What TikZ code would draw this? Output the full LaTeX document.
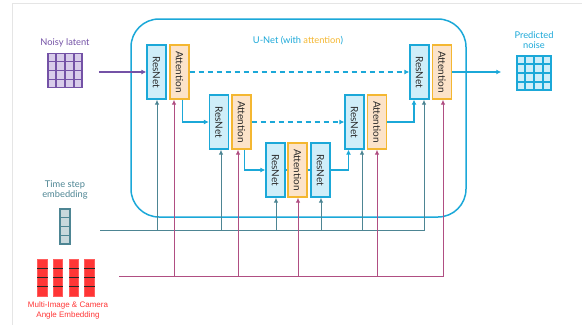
\documentclass[tikz,border=0pt]{standalone}
\usepackage{fontspec}
\setmainfont{Lato}
\newfontfamily\embfont{Liberation Sans}
\usepackage{graphicx}
\usepackage{tikz}
\usetikzlibrary{positioning, arrows.meta, calc}

\definecolor{unetcyan}{HTML}{1BA8D8}
\definecolor{resfill}{HTML}{CFEEF9}
\definecolor{attfill}{HTML}{FCE3C9}
\definecolor{attdraw}{HTML}{F4B731}
\definecolor{tealc}{HTML}{4D8593}
\definecolor{magc}{HTML}{B04E82}
\definecolor{purplec}{HTML}{7452A6}
\definecolor{lightpurple}{HTML}{D8CCEA}
\definecolor{tsfill}{HTML}{C8D8DC}
\definecolor{redbar}{HTML}{FF3535}
\definecolor{blocktext}{HTML}{2A2A2A}

\begin{document}
\begin{tikzpicture}[
    x=1pt, y=-1pt,
    res/.style={draw=unetcyan, fill=resfill, line width=1.3pt, minimum width=19pt, minimum height=54pt,
        inner sep=0pt, text=blocktext, font=\fontsize{10}{12}\selectfont},
    att/.style={res, draw=attdraw, fill=attfill},
    flow/.style={unetcyan, line width=1.2pt, -{Latex[length=5pt,width=5pt]}},
    skip/.style={flow, dash pattern=on 5pt off 4pt},
    tline/.style={tealc, line width=1pt},
    mline/.style={magc, line width=1pt},
    tarrow/.style={tline, -{Latex[length=5pt,width=4.5pt]}},
    marrow/.style={mline, -{Latex[length=5pt,width=4.5pt]}},
    gridbox/.style={minimum size=34pt, inner sep=0pt, line width=1.5pt},
    lbl/.style={font=\fontsize{9.3}{11}\selectfont, align=center},
]
\useasboundingbox (0,0) rectangle (582,325);
% faint frame
\draw[black!10, line width=0.6pt] (12,325) -- (12,3) -- (582,3);

% U-Net box
\node[draw=unetcyan, line width=1.5pt, rounded corners=28pt, minimum width=335pt, minimum height=198pt] (unet) at (298.5,118) {};
\node[lbl, text=unetcyan] (unetlbl) at (298,41) {U-Net (with \textcolor{attdraw}{attention})};

% Down path
\node[res] (res1) at (156.5,72) {\rotatebox{-90}{ResNet}};
\node[att] (att1) at (179.5,72) {\rotatebox{-90}{Attention}};
\node[res] (res2) at (219,122) {\rotatebox{-90}{ResNet}};
\node[att] (att2) at (241.5,122) {\rotatebox{-90}{Attention}};
% Bottom
\node[res] (res3) at (275.5,170) {\rotatebox{-90}{ResNet}};
\node[att] (att3) at (297.5,170) {\rotatebox{-90}{Attention}};
\node[res] (res4) at (320.5,170) {\rotatebox{-90}{ResNet}};
% Up path
\node[res] (res5) at (354.5,122) {\rotatebox{-90}{ResNet}};
\node[att] (att4) at (377,122) {\rotatebox{-90}{Attention}};
\node[res] (res6) at (419.5,72) {\rotatebox{-90}{ResNet}};
\node[att] (att5) at (442,72) {\rotatebox{-90}{Attention}};

% Input and output grids
\node[gridbox, draw=purplec, fill=lightpurple] (latent) at (65,70.5) {};
\node[lbl, text=purplec] (latentlbl) at (65,43) {Noisy latent};
\node[gridbox, draw=unetcyan, fill=resfill] (noise) at (534,73) {};
\node[lbl, text=unetcyan] (noiselbl) at (534,40.5) {Predicted\\[-1pt]noise};
\foreach \g/\c in {latent/purplec, noise/unetcyan}
  \foreach \i in {1,2,3} {
    \draw[\c, line width=1.5pt] ($(\g.north west)!\i/4!(\g.north east)$) -- ($(\g.south west)!\i/4!(\g.south east)$);
    \draw[\c, line width=1.5pt] ($(\g.north west)!\i/4!(\g.south west)$) -- ($(\g.north east)!\i/4!(\g.south east)$);
  }

% Time step embedding
\node[draw=tealc, fill=tsfill, line width=1.2pt, minimum width=10pt, minimum height=35pt, inner sep=0pt] (ts) at (65,226.5) {};
\foreach \i in {1,2,3}
  \draw[tealc, line width=1.2pt] ($(ts.north west)!\i/4!(ts.south west)$) -- ($(ts.north east)!\i/4!(ts.south east)$);
\node[lbl, text=tealc] (tslbl) at (65,190) {Time step\\[-1pt]embedding};

% Multi-image & camera angle embedding
\foreach \x [count=\k] in {42.5,58,74,89.5} {
  \node[draw=redbar!80!white, fill=redbar, line width=0.6pt, minimum width=9.5pt, minimum height=37pt, inner sep=0pt] (emb\k) at (\x,277.5) {};
  \foreach \i in {1,2,3}
    \draw[black!85, line width=0.9pt] ($(emb\k.north west)!\i/4!(emb\k.south west)$) -- ($(emb\k.north east)!\i/4!(emb\k.south east)$);
}
\node[font=\embfont\fontsize{8}{10}\selectfont, text=redbar, align=center] (emblbl) at (68,310) {Multi-Image \& Camera\\Angle Embedding};

% Main flow
\draw[purplec, line width=1.2pt, -{Latex[length=5pt,width=5pt]}, shorten <=16pt] (latent.east |- res1.west) -- (res1.west);
\draw[skip] (att1.east) -- (res6.west);
\draw[skip] (att2.east) -- (res5.west);
\draw[flow] ([xshift=3pt]att1.south) |- (res2.west);
\draw[flow] ([xshift=3pt]att2.south) |- (res3.west);
\draw[unetcyan, line width=1.2pt] (res3.east) -- (att3.west) (att3.east) -- (res4.west);
\draw[flow] (res4.east) -| ([xshift=-6pt]res5.south);
\draw[flow] (att4.east) -| ([xshift=-5.5pt]res6.south);
\draw[flow, shorten >=15pt] (att5.east) -- (att5.east -| noise.west);

% Time step bus
\coordinate (tstart) at (100,230);
\draw[tarrow] (tstart) -| ([xshift=4.5pt]res6.south);
\foreach \n/\dx in {res1/0.5, res2/2, res3/0.5, res4/0.5, res5/7.5}
  \draw[tarrow] ([xshift=\dx pt]\n.south |- tstart) -- ([xshift=\dx pt]\n.south);

% Embedding bus
\coordinate (mstart) at (119,276);
\draw[marrow] (mstart) -| ([xshift=1pt]att5.south);
\foreach \n/\dx in {att1/-5.5, att2/-3.5, att3/0.5, att4/0}
  \draw[marrow] ([xshift=\dx pt]\n.south |- mstart) -- ([xshift=\dx pt]\n.south);
\end{tikzpicture}
\end{document}
